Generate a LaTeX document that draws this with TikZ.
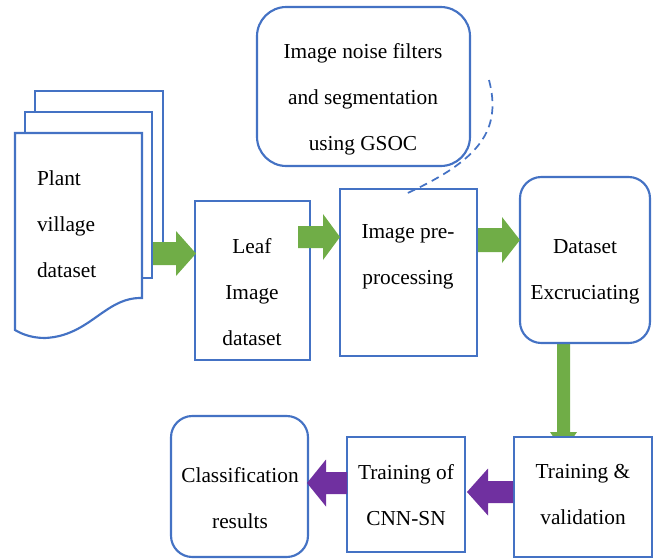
\documentclass[tikz,border=0pt]{standalone}
\usepackage{fontspec}
\setmainfont{Liberation Serif}
\usetikzlibrary{calc}
\definecolor{boxblue}{HTML}{4472C4}
\definecolor{arrgreen}{HTML}{70AD47}
\definecolor{arrpurple}{HTML}{7030A0}
% block arrow: #1 shaft end x, #2 head base x, #3 tip x, #4 centre y, #5 shaft half, #6 head half, #7 colour
\newcommand{\harr}[7]{\fill[#7] (#1,{#4-#5}) -- (#2,{#4-#5}) -- (#2,{#4-#6}) -- (#3,#4) -- (#2,{#4+#6}) -- (#2,{#4+#5}) -- (#1,{#4+#5}) -- cycle;}
% box node from corners
\newcommand{\boxnode}[6]{\node[#6, minimum width={(#4-#2)*0.75pt}, minimum height={(#5-#3)*0.75pt}] (#1) at ({(#2+#4)/2},{(#3+#5)/2}) {};}
\begin{document}
\begin{tikzpicture}[x=0.75pt,y=-0.75pt, line width=1.6pt,
  page/.style={draw=boxblue, fill=white},
  rectbox/.style={draw=boxblue, fill=white, rectangle, inner sep=0pt, outer sep=0pt},
  roundbox/.style={rectbox, rounded corners=16pt},
  bigroundbox/.style={rectbox, rounded corners=22pt},
  txt/.style={font=\fontsize{16}{34.5}\selectfont, align=center, inner sep=0pt},
  callout/.style={draw=boxblue, line width=1.3pt, dash pattern=on 6pt off 4pt},
]
\useasboundingbox (0,0) rectangle (654,558);
% document stack
\draw[page] (35,91) rectangle (163,255);
\draw[page] (25,112) rectangle (152,278);
\draw[page] (15,133) -- (142,133) -- (142,298) .. controls (105,297) and (90,336) .. (45,338) .. controls (30,338) and (20,333) .. (15,330) -- cycle;
\node[txt, anchor=west, align=left] (planttxt) at (36,224) {Plant\\village\\dataset};
% down arrow (under training box)
\fill[arrgreen] (557,340) -- (570,340) -- (570,432) -- (577,432) -- (563.5,452) -- (550,432) -- (557,432) -- cycle;
% boxes
\boxnode{gsoc}{257}{7}{470}{166}{bigroundbox}
\boxnode{leaf}{195}{201}{310}{360}{rectbox}
\boxnode{pre}{340}{189}{477}{356}{rectbox}
\boxnode{dsx}{520}{177}{650}{343}{roundbox}
\boxnode{trv}{514}{437}{652}{557}{rectbox}
\boxnode{cnn}{347}{437}{465}{552}{rectbox}
\boxnode{cls}{171}{416}{308}{557}{roundbox}
% block arrows
\harr{153}{176}{196}{253.5}{11.5}{22.5}{arrgreen}
\harr{298}{323}{340}{237}{11}{23}{arrgreen}
\harr{478}{502}{520}{240}{12}{23}{arrgreen}
\harr{513}{488}{467}{492}{11}{23.5}{arrpurple}
\harr{347}{326}{307}{483}{11}{23.5}{arrpurple}
% callout line
\coordinate (calloutstart) at (489,80);
\draw[callout] (calloutstart) .. controls (502,130) and (480,160) .. ($(pre.north)+(-3,5)$);
% texts
\node[txt] (gsoctxt) at (363,99) {Image noise filters\\and segmentation\\using GSOC};
\node[txt] (leaftxt) at (252,292) {Leaf\\Image\\dataset};
\node[txt] (pretxt) at (408,257) {Image pre-\\processing};
\node[txt] (dsxtxt) at (585,272) {Dataset\\Excruciating};
\node[txt] (trvtxt) at (583,495) {Training \&\\validation};
\node[txt] (cnntxt) at (406,495) {Training of\\CNN-SN};
\node[txt] (clstxt) at (240,498) {Classification\\results};
\end{tikzpicture}
\end{document}
